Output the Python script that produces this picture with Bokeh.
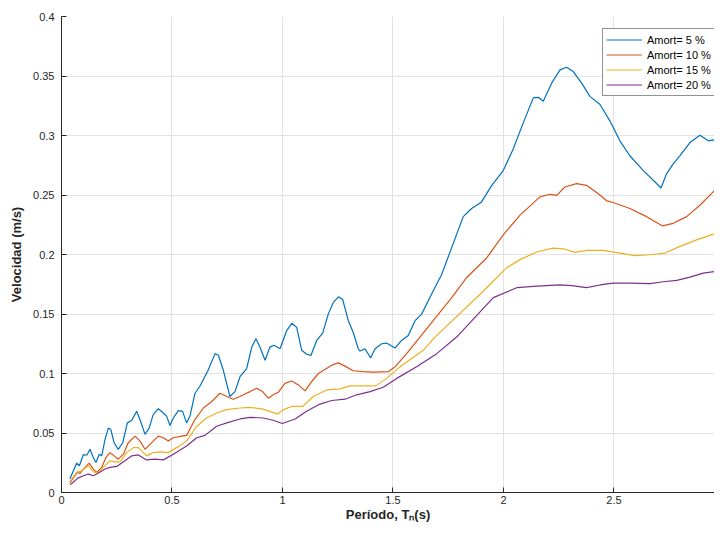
from bokeh.plotting import figure
from bokeh.models import Legend, LegendItem, FixedTicker, Range1d
from bokeh.embed import file_html
from bokeh.resources import INLINE

# ---------------- data ----------------
x_5 = [0.038, 0.069, 0.081, 0.099, 0.114, 0.129, 0.144, 0.156, 0.171, 0.182, 0.197, 0.212, 0.223, 0.238, 0.257, 0.277,
       0.298, 0.318, 0.340, 0.355, 0.378, 0.397, 0.415, 0.438, 0.461, 0.476, 0.491, 0.506, 0.529, 0.548, 0.566, 0.581,
       0.604, 0.627, 0.664, 0.695, 0.710, 0.732, 0.762, 0.785, 0.808, 0.838, 0.861, 0.880, 0.898, 0.921, 0.943, 0.961,
       0.989, 1.019, 1.042, 1.064, 1.087, 1.109, 1.129, 1.155, 1.182, 1.207, 1.230, 1.253, 1.272, 1.298, 1.320, 1.343,
       1.351, 1.373, 1.399, 1.419, 1.449, 1.471, 1.509, 1.539, 1.569, 1.600, 1.630, 1.667, 1.705, 1.720, 1.766, 1.818,
       1.856, 1.901, 1.947, 1.999, 2.044, 2.090, 2.135, 2.158, 2.180, 2.218, 2.256, 2.286, 2.316, 2.354, 2.391, 2.437,
       2.482, 2.527, 2.572, 2.633, 2.686, 2.713, 2.738, 2.768, 2.799, 2.844, 2.889, 2.927, 2.949, 2.972, 2.990]
v_5 = [0.0114, 0.0247, 0.0225, 0.0319, 0.0313, 0.0363, 0.0294, 0.0252, 0.0322, 0.0308, 0.0447, 0.0543, 0.0530, 0.0418,
       0.0363, 0.0418, 0.0585, 0.0607, 0.0682, 0.0613, 0.0488, 0.0543, 0.0654, 0.0704, 0.0668, 0.0640, 0.0563, 0.0626,
       0.0688, 0.0682, 0.0585, 0.0640, 0.0834, 0.0895, 0.1029, 0.1167, 0.1153, 0.1029, 0.0807, 0.0848, 0.0973, 0.1042,
       0.1222, 0.1292, 0.1222, 0.1112, 0.1222, 0.1237, 0.1208, 0.1361, 0.1422, 0.1389, 0.1195, 0.1162, 0.1153, 0.1278,
       0.1339, 0.1499, 0.1597, 0.1644, 0.1624, 0.1444, 0.1347, 0.1208, 0.1189, 0.1208, 0.1131, 0.1208, 0.1250, 0.1256,
       0.1214, 0.1278, 0.1320, 0.1444, 0.1499, 0.1638, 0.1777, 0.1830, 0.2060, 0.2318, 0.2387, 0.2442, 0.2581, 0.2705,
       0.2886, 0.3108, 0.3316, 0.3321, 0.3288, 0.3440, 0.3551, 0.3573, 0.3537, 0.3440, 0.3329, 0.3260, 0.3121, 0.2955,
       0.2830, 0.2705, 0.2609, 0.2559, 0.2678, 0.2761, 0.2830, 0.2941, 0.3002, 0.2955, 0.2963, 0.2927, 0.2996]

x_10 = [0.038, 0.061, 0.072, 0.084, 0.106, 0.126, 0.144, 0.159, 0.182, 0.201, 0.219, 0.238, 0.257, 0.280, 0.302, 0.333,
        0.355, 0.378, 0.400, 0.438, 0.461, 0.483, 0.506, 0.544, 0.566, 0.604, 0.642, 0.680, 0.717, 0.748, 0.777, 0.808,
        0.823, 0.853, 0.883, 0.910, 0.936, 0.958, 0.981, 1.011, 1.042, 1.072, 1.102, 1.132, 1.162, 1.192, 1.223, 1.253,
        1.283, 1.320, 1.366, 1.411, 1.479, 1.509, 1.562, 1.622, 1.682, 1.766, 1.833, 1.924, 1.999, 2.075, 2.165, 2.210,
        2.241, 2.278, 2.331, 2.376, 2.429, 2.467, 2.497, 2.572, 2.648, 2.720, 2.768, 2.829, 2.889, 2.949, 2.990]
v_10 = [0.0080, 0.0141, 0.0169, 0.0161, 0.0211, 0.0247, 0.0197, 0.0169, 0.0211, 0.0294, 0.0335, 0.0308, 0.0280, 0.0322,
        0.0418, 0.0474, 0.0432, 0.0363, 0.0405, 0.0474, 0.0460, 0.0432, 0.0460, 0.0474, 0.0480, 0.0613, 0.0710, 0.0765,
        0.0834, 0.0807, 0.0784, 0.0807, 0.0821, 0.0848, 0.0876, 0.0848, 0.0793, 0.0821, 0.0842, 0.0917, 0.0937, 0.0904,
        0.0854, 0.0931, 0.1000, 0.1034, 0.1070, 0.1089, 0.1062, 0.1023, 0.1015, 0.1012, 0.1015, 0.1056, 0.1167, 0.1306,
        0.1444, 0.1638, 0.1805, 0.1971, 0.2165, 0.2331, 0.2484, 0.2506, 0.2497, 0.2567, 0.2595, 0.2581, 0.2511, 0.2451,
        0.2437, 0.2387, 0.2318, 0.2240, 0.2262, 0.2318, 0.2414, 0.2526, 0.2595]

x_15 = [0.038, 0.069, 0.091, 0.121, 0.144, 0.162, 0.189, 0.219, 0.242, 0.265, 0.295, 0.325, 0.348, 0.385, 0.415, 0.446,
        0.483, 0.521, 0.566, 0.612, 0.657, 0.702, 0.748, 0.808, 0.853, 0.913, 0.978, 1.004, 1.042, 1.091, 1.139, 1.200,
        1.260, 1.305, 1.366, 1.423, 1.471, 1.532, 1.637, 1.690, 1.894, 1.954, 2.014, 2.075, 2.150, 2.225, 2.271, 2.324,
        2.376, 2.452, 2.527, 2.595, 2.663, 2.731, 2.799, 2.874, 2.949, 2.990]
v_15 = [0.0091, 0.0169, 0.0183, 0.0225, 0.0175, 0.0164, 0.0211, 0.0266, 0.0258, 0.0258, 0.0335, 0.0377, 0.0377, 0.0308,
        0.0335, 0.0341, 0.0335, 0.0377, 0.0432, 0.0557, 0.0626, 0.0668, 0.0696, 0.0710, 0.0715, 0.0701, 0.0659, 0.0696,
        0.0723, 0.0723, 0.0807, 0.0862, 0.0871, 0.0896, 0.0896, 0.0896, 0.0959, 0.1056, 0.1195, 0.1306, 0.1666, 0.1777,
        0.1888, 0.1957, 0.2021, 0.2054, 0.2048, 0.2018, 0.2035, 0.2035, 0.2012, 0.1990, 0.1998, 0.2012, 0.2068, 0.2123,
        0.2171, 0.2198]

x_20 = [0.038, 0.053, 0.072, 0.099, 0.121, 0.144, 0.167, 0.197, 0.219, 0.250, 0.287, 0.318, 0.348, 0.385, 0.423, 0.461,
        0.506, 0.566, 0.612, 0.649, 0.702, 0.748, 0.808, 0.853, 0.913, 0.958, 0.999, 1.057, 1.109, 1.170, 1.223, 1.283,
        1.336, 1.396, 1.456, 1.517, 1.607, 1.698, 1.788, 1.954, 2.060, 2.150, 2.256, 2.309, 2.376, 2.437, 2.497, 2.572,
        2.663, 2.723, 2.784, 2.844, 2.904, 2.990]
v_20 = [0.0064, 0.0086, 0.0119, 0.0141, 0.0155, 0.0141, 0.0164, 0.0197, 0.0211, 0.0219, 0.0266, 0.0308, 0.0316, 0.0274,
        0.0280, 0.0274, 0.0322, 0.0391, 0.0460, 0.0480, 0.0557, 0.0585, 0.0618, 0.0632, 0.0626, 0.0607, 0.0580, 0.0618,
        0.0682, 0.0743, 0.0773, 0.0784, 0.0821, 0.0848, 0.0884, 0.0959, 0.1056, 0.1167, 0.1306, 0.1638, 0.1721, 0.1735,
        0.1744, 0.1738, 0.1721, 0.1744, 0.1760, 0.1760, 0.1755, 0.1771, 0.1782, 0.1810, 0.1843, 0.1865]

series_labels = ["Amort= 5 %", "Amort= 10 %", "Amort= 15 %", "Amort= 20 %"]
series_colors = ["#0072BD", "#D95319", "#EDB120", "#7E2F8E"]

x_ticks = [0, 0.5, 1, 1.5, 2, 2.5]
x_tick_labels = ["0", "0.5", "1", "1.5", "2", "2.5"]
y_ticks = [0, 0.05, 0.1, 0.15, 0.2, 0.25, 0.3, 0.35, 0.4]
y_tick_labels = ["0", "0.05", "0.1", "0.15", "0.2", "0.25", "0.3", "0.35", "0.4"]
x_title = "Período, Tₙ(s)"
y_title = "Velocidad (m/s)"

FONT = "Liberation Sans"
TXT = "#262626"

p = figure(width=714, height=524, output_backend="svg", toolbar_location=None,
           x_range=Range1d(0, 2.955), y_range=Range1d(0, 0.4),
           min_border_left=61, min_border_right=0, min_border_top=16, min_border_bottom=27)
p.outline_line_color = None
p.background_fill_color = "white"
p.border_fill_color = "white"

for ax, ticks, labels in ((p.xaxis[0], x_ticks, x_tick_labels), (p.yaxis[0], y_ticks, y_tick_labels)):
    ax.ticker = FixedTicker(ticks=ticks)
    ax.major_label_overrides = {t: l for t, l in zip(ticks, labels)}
    ax.major_tick_in = 5
    ax.major_tick_out = 0
    ax.minor_tick_line_color = None
    ax.axis_line_color = TXT
    ax.major_tick_line_color = TXT
    ax.major_label_text_font = FONT
    ax.major_label_text_font_size = "11px"
    ax.major_label_text_color = TXT
    ax.axis_label_text_font = FONT
    ax.axis_label_text_font_style = "bold"
    ax.axis_label_text_font_size = "13px"
    ax.axis_label_text_color = TXT

p.xaxis.axis_label = x_title
p.yaxis.axis_label = y_title
p.xaxis.major_label_standoff = 3
p.xaxis.axis_label_standoff = 0
p.yaxis.major_label_standoff = 7
p.yaxis.axis_label_standoff = 6

p.xgrid.ticker = FixedTicker(ticks=x_ticks)
p.ygrid.ticker = FixedTicker(ticks=y_ticks)
p.grid.grid_line_color = "#e2e2e2"
p.grid.grid_line_width = 1

renderers = []
for xs, ys, c in ((x_5, v_5, series_colors[0]), (x_10, v_10, series_colors[1]),
                  (x_15, v_15, series_colors[2]), (x_20, v_20, series_colors[3])):
    renderers.append(p.line(xs, ys, line_color=c, line_width=1.2))

legend = Legend(items=[LegendItem(label=l, renderers=[r]) for l, r in zip(series_labels, renderers)],
                location=(541, 396))
legend.border_line_color = TXT
legend.border_line_width = 1
legend.background_fill_color = "white"
legend.background_fill_alpha = 1
legend.padding = 3
legend.spacing = 0
legend.margin = 0
legend.glyph_width = 36
legend.glyph_height = 15
legend.label_height = 15
legend.label_standoff = 5
legend.label_text_font = FONT
legend.label_text_font_size = "11px"
legend.label_text_color = "black"
p.add_layout(legend, "center")

open("out.html", "w").write(file_html(p, INLINE))
